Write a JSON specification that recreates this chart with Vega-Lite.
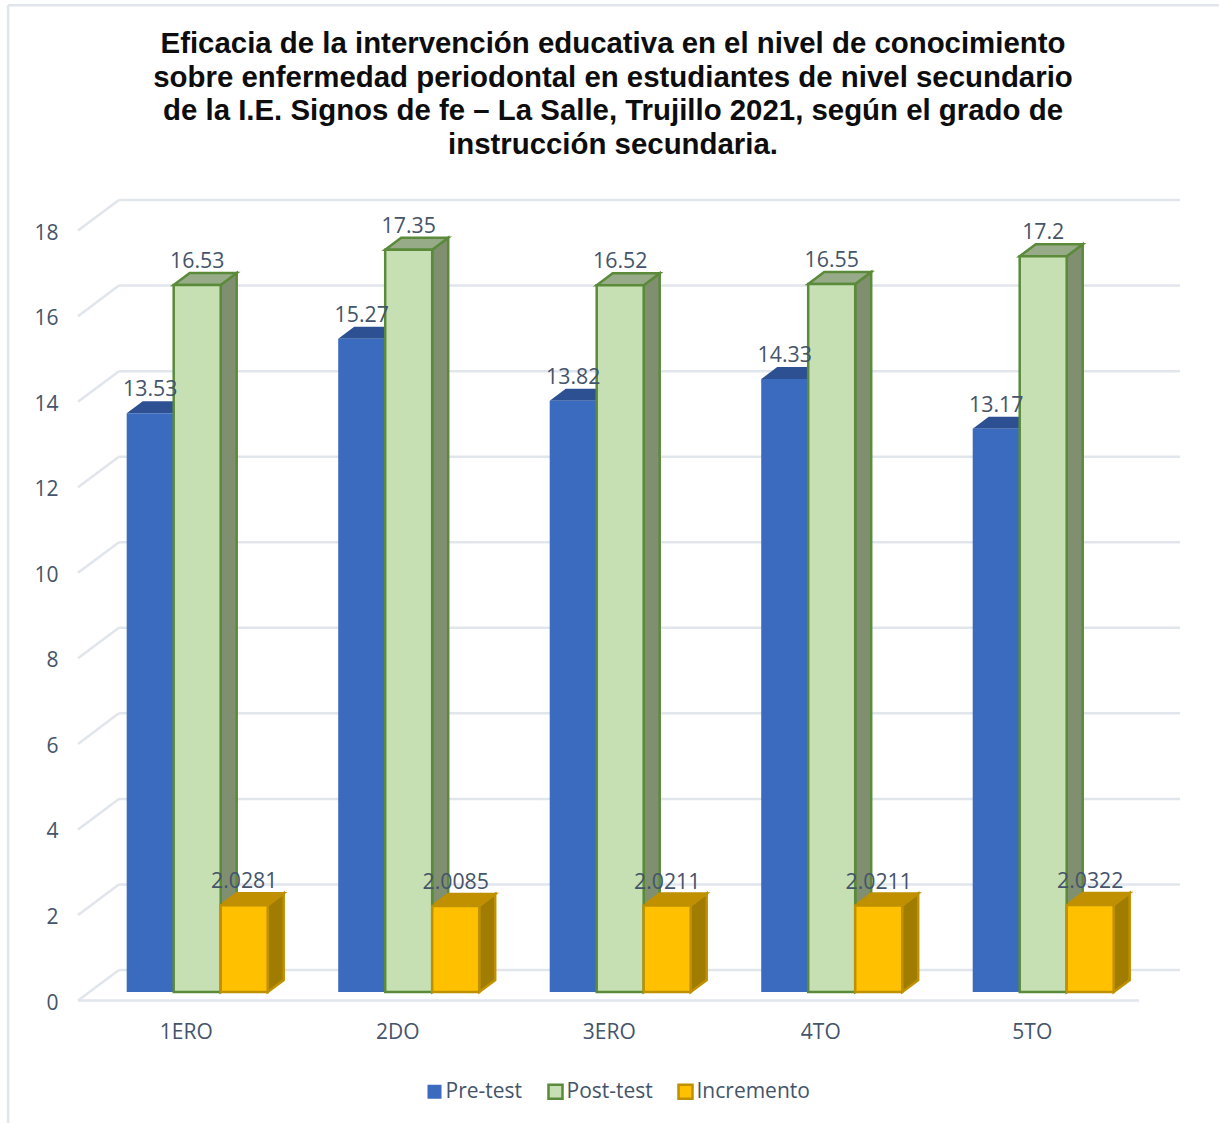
{
"$schema":"https://vega.github.io/schema/vega-lite/v6.json",
"width":1100,"height":792,
"padding":{"left":80,"top":200,"right":39,"bottom":131},
"autosize":"none",
"background":"white",
"config":{"view":{"stroke":null},"text":{"font":"Open Sans"}},
"title":{"text":["Eficacia de la intervención educativa en el nivel de conocimiento","sobre enfermedad periodontal en estudiantes de nivel secundario","de la I.E. Signos de fe – La Salle, Trujillo 2021, según el grado de","instrucción secundaria."],"font":"Liberation Sans","fontSize":29.4,"fontWeight":"bold","lineHeight":33.5,"color":"#0d0d0d","anchor":"middle","dx":-17,"offset":-156},
"datasets":{
"barras":[
{"grado":"1ERO","serie":"Pre-test","valor":13.53},{"grado":"1ERO","serie":"Post-test","valor":16.53},{"grado":"1ERO","serie":"Incremento","valor":2.0281},
{"grado":"2DO","serie":"Pre-test","valor":15.27},{"grado":"2DO","serie":"Post-test","valor":17.35},{"grado":"2DO","serie":"Incremento","valor":2.0085},
{"grado":"3ERO","serie":"Pre-test","valor":13.82},{"grado":"3ERO","serie":"Post-test","valor":16.52},{"grado":"3ERO","serie":"Incremento","valor":2.0211},
{"grado":"4TO","serie":"Pre-test","valor":14.33},{"grado":"4TO","serie":"Post-test","valor":16.55},{"grado":"4TO","serie":"Incremento","valor":2.0211},
{"grado":"5TO","serie":"Pre-test","valor":13.17},{"grado":"5TO","serie":"Post-test","valor":17.2},{"grado":"5TO","serie":"Incremento","valor":2.0322}],
"marcas":[{"v":0},{"v":2},{"v":4},{"v":6},{"v":8},{"v":10},{"v":12},{"v":14},{"v":16},{"v":18}]
},
"resolve":{"scale":{"fill":"independent","stroke":"independent"}},
"layer":[
{"data":{"name":"marcas"},
 "transform":[{"calculate":"datum.v+0.514","as":"yb"}],
 "mark":{"type":"rule","color":"#e1e5ec","strokeWidth":2.5},
 "encoding":{
  "x":{"datum":0.184,"type":"quantitative","scale":{"domain":[0,5.2009],"nice":false,"zero":false},
   "axis":{"title":null,"values":[0.5,1.5,2.5,3.5,4.5],"labelExpr":"['1ERO','2DO','3ERO','4TO','5TO'][floor(datum.value)]","domain":false,"ticks":false,"grid":false,"labelFont":"Open Sans","labelFontSize":21,"labelColor":"#44546a","labelPadding":29}},
  "x2":{"datum":5.2009},
  "y":{"field":"yb","type":"quantitative","scale":{"domain":[0,18.515],"nice":false,"zero":false},
   "axis":{"title":null,"values":[0,2,4,6,8,10,12,14,16,18],"domain":false,"ticks":false,"grid":false,"labelFont":"Open Sans","labelFontSize":21,"labelColor":"#44546a","labelPadding":22,"labelOffset":11}}
 }},
{"data":{"name":"marcas"},
 "transform":[{"calculate":"datum.v+0.514","as":"yb"},{"calculate":"datum.v-0.2","as":"ya"}],
 "mark":{"type":"rule","color":"#e1e5ec","strokeWidth":2.5},
 "encoding":{"x":{"datum":-0.0094,"type":"quantitative"},"x2":{"datum":0.184},"y":{"field":"ya","type":"quantitative"},"y2":{"field":"yb"}}},
{"data":{"values":[{"v":0}]},
 "transform":[{"calculate":"datum.v-0.2","as":"ya"}],
 "mark":{"type":"rule","color":"#e1e5ec","strokeWidth":2.5},
 "encoding":{"x":{"datum":-0.0094,"type":"quantitative"},"x2":{"datum":5.007},"y":{"field":"ya","type":"quantitative"}}},
{"data":{"values":[{"v":0}]},
 "mark":{"type":"rule","color":"#e1e5ec","strokeWidth":2.5},
 "encoding":{"x":{"datum":-0.34,"type":"quantitative"},"y":{"datum":-3.06,"type":"quantitative"},"y2":{"datum":23.07}}},
{"data":{"values":[{"v":0}]},
 "mark":{"type":"rule","color":"#e1e5ec","strokeWidth":2.5},
 "encoding":{"x":{"datum":-0.34,"type":"quantitative"},"x2":{"datum":5.39},"y":{"datum":23.07,"type":"quantitative"}}},
{"data":{"name":"barras"},
 "transform":[
  {"calculate":"indexof(['1ERO','2DO','3ERO','4TO','5TO'],datum.grado)+0.2208+indexof(['Pre-test','Post-test','Incremento'],datum.serie)*0.2222","as":"x0"},
  {"calculate":"[0,1]","as":"t"},{"flatten":["t"]},
  {"calculate":"datum.x0+0.2222+datum.t*0.0757","as":"xa"},
  {"calculate":"datum.t*0.28","as":"ya"},
  {"calculate":"datum.valor+datum.t*0.28","as":"yb"}],
 "mark":{"type":"area","orient":"vertical","strokeWidth":2.5,"strokeJoin":"miter"},
 "encoding":{
  "x":{"field":"xa","type":"quantitative"},
  "y":{"field":"ya","type":"quantitative","stack":null},
  "y2":{"field":"yb"},
  "detail":{"field":"grado"},
  "fill":{"field":"serie","type":"nominal","legend":null,"scale":{"domain":["Pre-test","Post-test","Incremento"],"range":["#2b4d8c","#7f8f70","#a07c00"]}},
  "stroke":{"field":"serie","type":"nominal","legend":null,"scale":{"domain":["Pre-test","Post-test","Incremento"],"range":["transparent","#5a8a3a","#bf9000"]}}
 }},
{"data":{"name":"barras"},
 "transform":[
  {"calculate":"indexof(['1ERO','2DO','3ERO','4TO','5TO'],datum.grado)+0.2208+indexof(['Pre-test','Post-test','Incremento'],datum.serie)*0.2222","as":"x0"},
  {"calculate":"[0,1,2,3]","as":"t"},{"flatten":["t"]},
  {"calculate":"datum.x0+[0,0.0757,0.2222,0.2979][datum.t]","as":"xa"},
  {"calculate":"datum.valor+[0,0,0,0.28][datum.t]","as":"ya"},
  {"calculate":"datum.valor+[0,0.28,0.28,0.28][datum.t]","as":"yb"}],
 "mark":{"type":"area","orient":"vertical","strokeWidth":2.5,"strokeJoin":"miter"},
 "encoding":{
  "x":{"field":"xa","type":"quantitative"},
  "y":{"field":"ya","type":"quantitative","stack":null},
  "y2":{"field":"yb"},
  "detail":{"field":"grado"},
  "fill":{"field":"serie","type":"nominal","legend":null,"scale":{"domain":["Pre-test","Post-test","Incremento"],"range":["#2d5092","#98ab88","#c09000"]}},
  "stroke":{"field":"serie","type":"nominal","legend":null,"scale":{"domain":["Pre-test","Post-test","Incremento"],"range":["transparent","#5a8a3a","#bf9000"]}}
 }},
{"data":{"name":"barras"},
 "transform":[
  {"calculate":"indexof(['1ERO','2DO','3ERO','4TO','5TO'],datum.grado)+0.2208+indexof(['Pre-test','Post-test','Incremento'],datum.serie)*0.2222","as":"x0"},
  {"calculate":"datum.x0+0.2222","as":"x1"}],
 "mark":{"type":"rect","strokeWidth":2.5},
 "encoding":{
  "x":{"field":"x0","type":"quantitative"},
  "x2":{"field":"x1"},
  "y":{"field":"valor","type":"quantitative"},
  "y2":{"datum":0},
  "fill":{"field":"serie","type":"nominal","scale":{"domain":["Pre-test","Post-test","Incremento"],"range":["#3a6bbf","#c6e0b4","#ffc000"]},
   "legend":{"title":null,"orient":"none","legendX":344,"legendY":881,"direction":"horizontal","symbolType":"square","symbolSize":196,"symbolStrokeWidth":2.5,"symbolOpacity":1,"labelFont":"Open Sans","labelFontSize":21,"labelColor":"#44546a","labelOffset":0.5,"columnPadding":20,"columns":3}},
  "stroke":{"field":"serie","type":"nominal","scale":{"domain":["Pre-test","Post-test","Incremento"],"range":["transparent","#5a8a3a","#bf9000"]}}
 }},
{"data":{"name":"barras"},
 "transform":[
  {"calculate":"indexof(['1ERO','2DO','3ERO','4TO','5TO'],datum.grado)+0.3319+indexof(['Pre-test','Post-test','Incremento'],datum.serie)*0.2222","as":"xc"}],
 "mark":{"type":"text","font":"Open Sans","fontSize":21.3,"color":"#44546a","baseline":"middle","align":"center","dy":-23},
 "encoding":{
  "x":{"field":"xc","type":"quantitative"},
  "y":{"field":"valor","type":"quantitative"},
  "text":{"field":"valor","type":"nominal"}
 }}
]
}
